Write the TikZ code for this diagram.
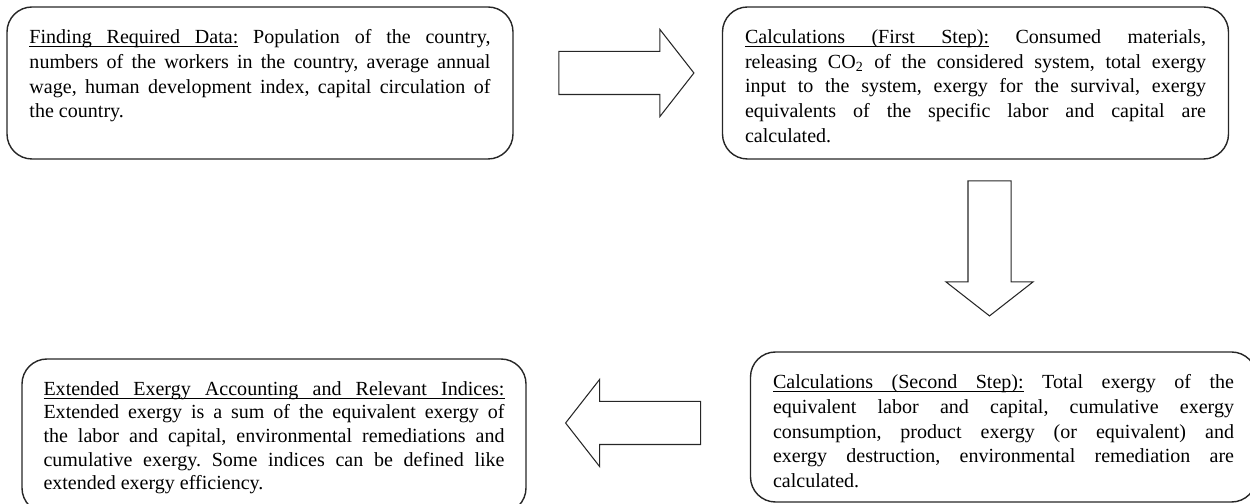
\documentclass[tikz,border=0pt]{standalone}
\usepackage{fontspec}
\setmainfont{Liberation Serif}
\usetikzlibrary{shapes.arrows}
\tikzset{
	stepbox/.style={draw=black!85, line width=0.8pt, rounded corners=0.5cm, inner xsep=0.45cm, inner ysep=0.38cm, font=\fontsize{11.4}{14.1}\selectfont},
	blockarrow/.style={single arrow, draw=black!85, line width=0.6pt, inner sep=0.42cm, minimum width=1.72cm, minimum height=2.7cm, single arrow head extend=0.44cm, single arrow tip angle=104}
}
\newlength{\ulwd}
\newcommand{\ulword}[1]{\leavevmode\settowidth{\ulwd}{#1}\rlap{#1}\rule[-1.8pt]{\ulwd}{0.5pt}}
\newcommand{\ulgap}{\leaders\hrule height -1.3pt depth 1.8pt\hskip\fontdimen2\font plus\fontdimen3\font minus\fontdimen4\font\relax}
\newcommand{\stepbody}[2][2.28cm]{\parbox[c][#1][t]{9.22cm}{\frenchspacing\vspace*{0.07cm}#2}}

\begin{document}
\begin{tikzpicture}
		%%%%% START %%%%%
		\useasboundingbox (0, 0) rectangle (25, 10.08);
		
		\node[stepbox] (data) at (5.20, 8.42) {\stepbody{\ulword{Finding}\ulgap\ulword{Required}\ulgap\ulword{Data:} Population of the country,\linebreak numbers of the workers in the country, average annual\linebreak wage, human development index, capital circulation of\linebreak the country.}};
		\node[stepbox] (firstcalc) at (19.51, 8.42) {\stepbody{\ulword{Calculations}\ulgap\ulword{(First}\ulgap\ulword{Step):} Consumed materials,\linebreak releasing CO\textsubscript{2} of the considered system, total exergy\linebreak input to the system, exergy for the survival, exergy\linebreak equivalents of the specific labor and capital are\linebreak calculated.}};
		
		\node[stepbox] (secondcalc) at (20.07, 1.54) {\stepbody[2.24cm]{\ulword{Calculations}\ulgap\ulword{(Second}\ulgap\ulword{Step):} Total exergy of the\linebreak equivalent labor and capital, cumulative exergy\linebreak consumption, product exergy (or equivalent) and\linebreak exergy destruction, environmental remediation are\linebreak calculated.}};
		\node[stepbox, inner xsep=0.43cm, font=\fontsize{11.4}{13.4}\selectfont] (accounting) at (5.48, 1.36) {\stepbody[2.32cm]{\ulword{Extended}\ulgap\ulword{Exergy}\ulgap\ulword{Accounting}\ulgap\ulword{and}\ulgap\ulword{Relevant}\ulgap\ulword{Indices:}\linebreak Extended exergy is a sum of the equivalent exergy of\linebreak the labor and capital, environmental remediations and\linebreak cumulative exergy. Some indices can be defined like\linebreak extended exergy efficiency.}};
		
		\node[blockarrow] (arrowA) at (12.36, 8.62) {};
		\node[blockarrow, shape border rotate=270] (arrowB) at (19.79, 5.28) {};
		\node[blockarrow, shape border rotate=180] (arrowC) at (12.83, 1.62) {};
		
		%%%%% END %%%%%
\end{tikzpicture}
\end{document}
